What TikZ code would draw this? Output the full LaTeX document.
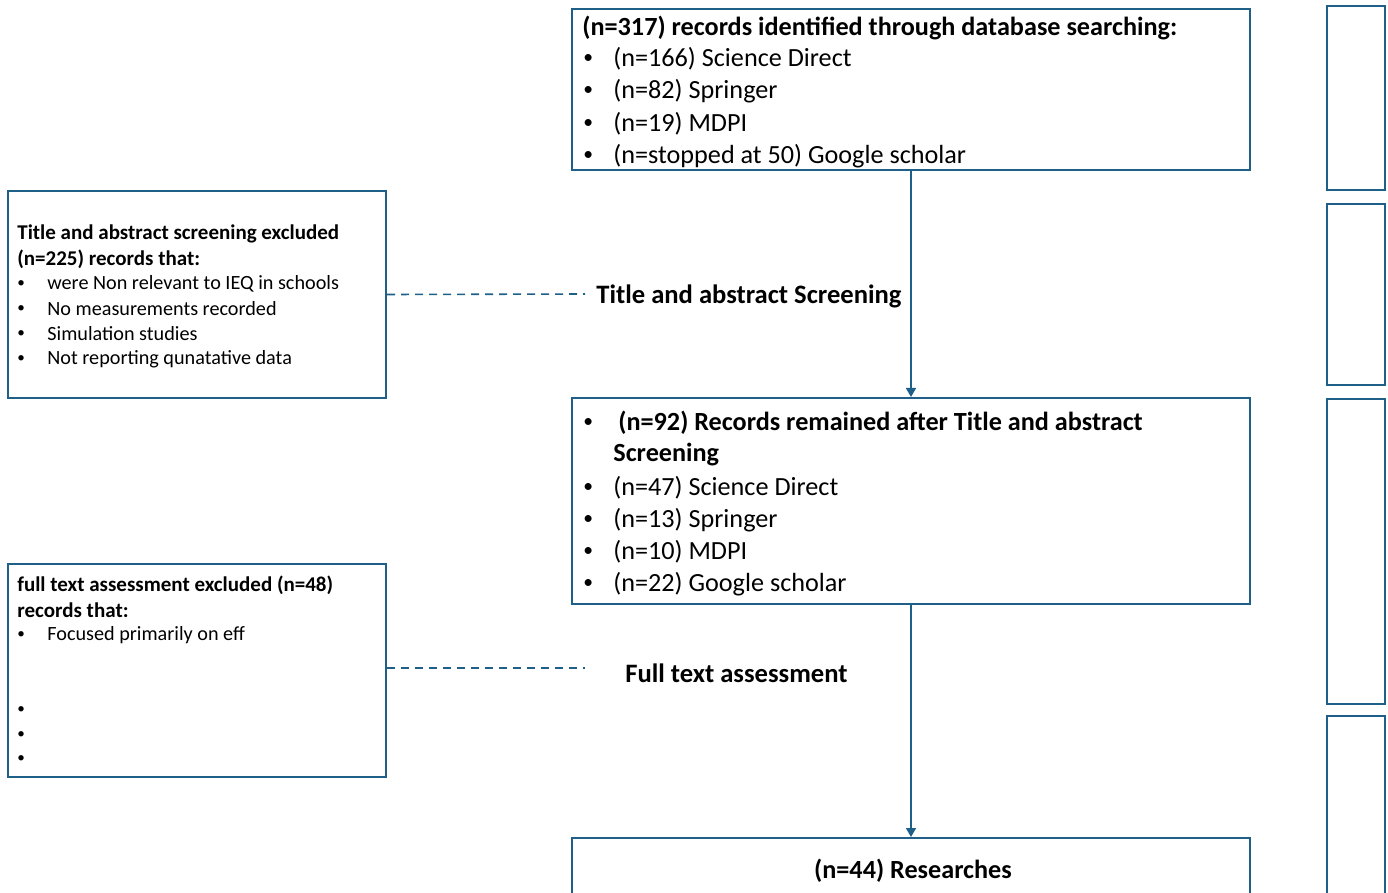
\documentclass[tikz,border=0pt]{standalone}
\usepackage{fontspec}
\setmainfont{Carlito}
\usetikzlibrary{arrows.meta}
\definecolor{bl}{RGB}{31,96,137}
\newcommand\mybul{\scalebox{0.75}{•}}
\tikzset{
  box/.style={draw=bl, line width=1pt, fill=none, inner sep=0pt},
  sidebox/.style={draw=bl, line width=1.3pt, inner sep=0pt, minimum width=29pt},
  big/.style={anchor=west, inner sep=0pt, yshift=-1pt, font=\fontsize{13.1}{15}\selectfont},
  bigb/.style={big, font=\fontsize{13.1}{15}\selectfont\bfseries},
  sm/.style={anchor=west, inner sep=0pt, yshift=-1pt, font=\fontsize{10.1}{12}\selectfont},
  smb/.style={sm, font=\fontsize{10.5}{12}\selectfont\bfseries},
  lab/.style={anchor=west, inner sep=0pt, yshift=-1pt, font=\fontsize{13.3}{15}\selectfont\bfseries},
  arr/.style={draw=bl, line width=0.8pt, -{Triangle[width=5pt,length=4.5pt]}},
  dsh/.style={draw=bl, line width=0.8pt, dash pattern=on 4pt off 3pt},
}
\begin{document}
\begin{tikzpicture}[x=0.5pt,y=-0.5pt]
\useasboundingbox (0,0) rectangle (1388,893);
\clip (0,0) rectangle (1388,893);
\fill[white] (0,0) rectangle (1388,893);
% main boxes
\node[box, minimum width=339pt, minimum height=80.5pt] (top) at (911,89.5) {};
\node[box, minimum width=339pt, minimum height=103pt] (mid) at (911,501) {};
\node[box, minimum width=339pt, minimum height=60pt] (bot) at (911,898) {};
\node[box, minimum width=189pt, minimum height=103.5pt] (ex1) at (197,294.5) {};
\node[box, minimum width=189pt, minimum height=106.5pt] (ex2) at (197,670.5) {};
% side boxes
\node[sidebox, minimum height=92pt] (s1) at (1356,98) {};
\node[sidebox, minimum height=90.5pt] (s2) at (1356,294.5) {};
\node[sidebox, minimum height=152.5pt] (s3) at (1356,551.5) {};
\node[sidebox, minimum height=100pt] (s4) at (1356,816) {};
% top box text
\node[bigb] (t0) at (582,26) {(n=317) records identified through database searching:};
\node[big] (tb1) at (583,57) {\mybul};
\node[big] (t1) at (613,57) {(n=166) Science Direct};
\node[big] (tb2) at (583,89) {\mybul};
\node[big] (t2) at (613,89) {(n=82) Springer};
\node[big] (tb3) at (583,122) {\mybul};
\node[big] (t3) at (613,122) {(n=19) MDPI};
\node[big] (tb4) at (583,154) {\mybul};
\node[big] (t4) at (613,154) {(n=stopped at 50) Google scholar};
% middle box text
\node[big] (mb0) at (583,421) {\mybul};
\node[bigb] (m0) at (618,421) {(n=92) Records remained after Title and abstract};
\node[bigb] (m0b) at (613,453) {Screening};
\node[big] (mb1) at (583,486) {\mybul};
\node[big] (m1) at (613,486) {(n=47) Science Direct};
\node[big] (mb2) at (583,518) {\mybul};
\node[big] (m2) at (613,518) {(n=13) Springer};
\node[big] (mb3) at (583,550) {\mybul};
\node[big] (m3) at (613,550) {(n=10) MDPI};
\node[big] (mb4) at (583,582) {\mybul};
\node[big] (m4) at (613,582) {(n=22) Google scholar};
% bottom
\node[bigb, anchor=center] (b0) at (913,869) {(n=44) Researches};
% left box 1
\node[smb] (a0) at (17,232) {Title and abstract screening excluded};
\node[smb] (a1) at (17,257) {(n=225) records that:};
\node[sm] (ab2) at (17,282) {\mybul};
\node[sm] (a2) at (47,282) {were Non relevant to IEQ in schools};
\node[sm] (ab3) at (17,307) {\mybul};
\node[sm] (a3) at (47,307) {No measurements recorded};
\node[sm] (ab4) at (17,332) {\mybul};
\node[sm] (a4) at (47,332) {Simulation studies};
\node[sm] (ab5) at (17,357) {\mybul};
\node[sm] (a5) at (47,357) {Not reporting qunatative data};
% left box 2
\node[smb] (c0) at (17,583) {full text assessment excluded (n=48)};
\node[smb] (c1) at (17,608) {records that:};
\node[sm] (cb2) at (17,633) {\mybul};
\node[sm] (c2) at (47,633) {Focused primarily on eff};
\node[sm] (cb3) at (17,708) {\mybul};
\node[sm] (cb4) at (17,733) {\mybul};
\node[sm] (cb5) at (17,757) {\mybul};
% stage labels
\node[lab] (L1) at (596,294) {Title and abstract Screening};
\node[lab] (L2) at (625,671) {Full text assessment};
% connectors
\draw[arr] (top.south) -- (mid.north);
\draw[arr] (mid.south) -- (bot.north);
\coordinate (d1) at (585,294);
\coordinate (d2) at (585,668);
\draw[dsh] (ex1.east) -- (d1);
\draw[dsh] (ex1.east |- d2) -- (d2);
\end{tikzpicture}
\end{document}
